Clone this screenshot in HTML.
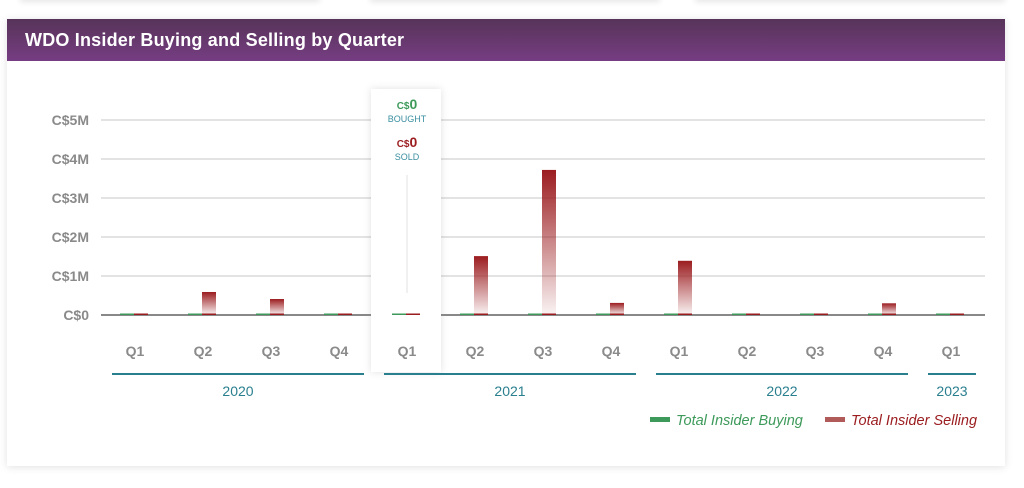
<!DOCTYPE html>
<html><head><meta charset="utf-8"><style>
body{margin:0;width:1024px;height:488px;background:#fff;font-family:"Liberation Sans",sans-serif;overflow:hidden;position:relative}
.card{position:absolute;left:7px;top:19px;width:998px;height:447px;background:#fff;box-shadow:0 1px 8px rgba(0,0,0,.12)}
.hdr{height:42px;background:linear-gradient(#573459,#763d82);color:#fff;font-weight:bold;font-size:18px;line-height:42px;padding-left:18px;letter-spacing:0.2px}
.top{position:absolute;top:-6px;height:6px;box-shadow:0 2px 6px rgba(0,0,0,.1);background:#fff}
</style></head><body>
<div class="top" style="left:20px;width:300px"></div>
<div class="top" style="left:370px;width:290px"></div>
<div class="top" style="left:695px;width:310px"></div>
<div class="card"><div class="hdr">WDO Insider Buying and Selling by Quarter</div></div>
<svg id="c" width="1024" height="488" style="position:absolute;left:0;top:0">
<defs><linearGradient id="rg" x1="0" y1="0" x2="0" y2="1"><stop offset="0" stop-color="#9b1c1f"/><stop offset="1" stop-color="#9b1c1f" stop-opacity="0.05"/></linearGradient>
<filter id="sh" x="-30%" y="-10%" width="160%" height="120%"><feDropShadow dx="0" dy="0" stdDeviation="4" flood-opacity="0.12"/></filter></defs>
</svg>
<script>
const quarters=["Q1","Q2","Q3","Q4","Q1","Q2","Q3","Q4","Q1","Q2","Q3","Q4","Q1"];
const years=["2020","2021","2022","2023"];
const yearCounts=[4,4,4,1];
const bought=[0,0,0,0,0,0,0,0,0,0.02,0.03,0,0];
const sold=[0,0.59,0.41,0,0,1.51,3.72,0.31,1.39,0,0,0.3,0];
const yTicks=[0,1,2,3,4,5];
const yLabels=["C$0","C$1M","C$2M","C$3M","C$4M","C$5M"];
const hoverIndex=4;
const svg=document.getElementById('c');const NS="http://www.w3.org/2000/svg";
function y(v){return 315-v*39;}
function x(i){return 134+i*68;}
function mk(t,a,p){const e=document.createElementNS(NS,t);for(const k in a)e.setAttribute(k,a[k]);(p||svg).appendChild(e);return e;}
yTicks.forEach((v,i)=>{
 if(v>0){const g=mk('line',{x1:101,x2:985,y1:y(v),y2:y(v),stroke:'#e3e3e3','stroke-width':2});
 
 }
 const t=mk('text',{x:89,y:y(v)+5,'text-anchor':'end','font-size':14,'font-weight':'bold',fill:'#8a8a8a'});t.textContent=yLabels[i];
 
 
});
const tb=mk('rect',{x:x(hoverIndex)-35,y:89,width:70,height:283,fill:'#fff',filter:'url(#sh)'});


const base=mk('line',{x1:101,x2:985,y1:315,y2:315,stroke:'#888','stroke-width':2});


const hb=mk('rect',{x:x(hoverIndex)-35,y:309,width:70,height:12,fill:'#fff'});


quarters.forEach((q,i)=>{
 const cx=x(i);
 const gh=Math.max(bought[i]*39,1.5),rh=Math.max(sold[i]*39,1.5);
 const g=mk('rect',{x:cx-14,y:315-gh,width:14,height:gh,fill:'#3d9a5a'});
 
 
 const r=mk('rect',{x:cx,y:315-rh,width:14,height:rh,fill:sold[i]>0.05?'url(#rg)':'#9b1c1f'});
 
 
 if(sold[i]>0.05){const b=mk('rect',{x:cx,y:313.5,width:14,height:1.5,fill:'#9b1c1f'});
 
 }
 const t=mk('text',{x:cx+1,y:356,'text-anchor':'middle','font-size':14,'font-weight':'bold',fill:'#8a8a8a'});t.textContent=q;
 
 
});
let s=0;
years.forEach((yr,k)=>{
 const x1=x(s)-22,x2=x(s+yearCounts[k]-1)+26;
 const l=mk('line',{x1:x1,x2:x2,y1:374,y2:374,stroke:'#2a7f8f','stroke-width':2});
 
 
 const t=mk('text',{x:(x1+x2)/2,y:396,'text-anchor':'middle','font-size':14,fill:'#2a7f8f'});t.textContent=yr;
 
 
 s+=yearCounts[k];
});
const hx=x(hoverIndex)+1;
const vl=mk('line',{x1:hx,x2:hx,y1:175,y2:293,stroke:'#e0e0e0','stroke-width':1});


function tt(yy,cur,val,lab,col,n){
 const t=mk('text',{x:hx,y:yy,'text-anchor':'middle',fill:col,'font-weight':'bold'});
 t.innerHTML='<tspan font-size="10">'+cur+'</tspan><tspan font-size="14">'+val+'</tspan>';
 
 
 const l=mk('text',{x:hx,y:yy+13,'text-anchor':'middle',fill:'#3a8fa0','font-size':9});l.textContent=lab;
 
 
}
tt(109,'C$',bought[hoverIndex],'BOUGHT','#3d9a5a','tooltip-bought');
tt(147,'C$',sold[hoverIndex],'SOLD','#9b1c1f','tooltip-sold');
const lg1=mk('rect',{x:650,y:417,width:20,height:5,fill:'#3d9a5a'});


const lt1=mk('text',{x:676,y:425,'font-size':14.5,'font-style':'italic',fill:'#3d9a5a'});lt1.textContent='Total Insider Buying';


const lg2=mk('rect',{x:825,y:417,width:20,height:5,fill:'#b05a5a'});


const lt2=mk('text',{x:851,y:425,'font-size':14.5,'font-style':'italic',fill:'#9b1c1f'});lt2.textContent='Total Insider Selling';


</script>
</body></html>
